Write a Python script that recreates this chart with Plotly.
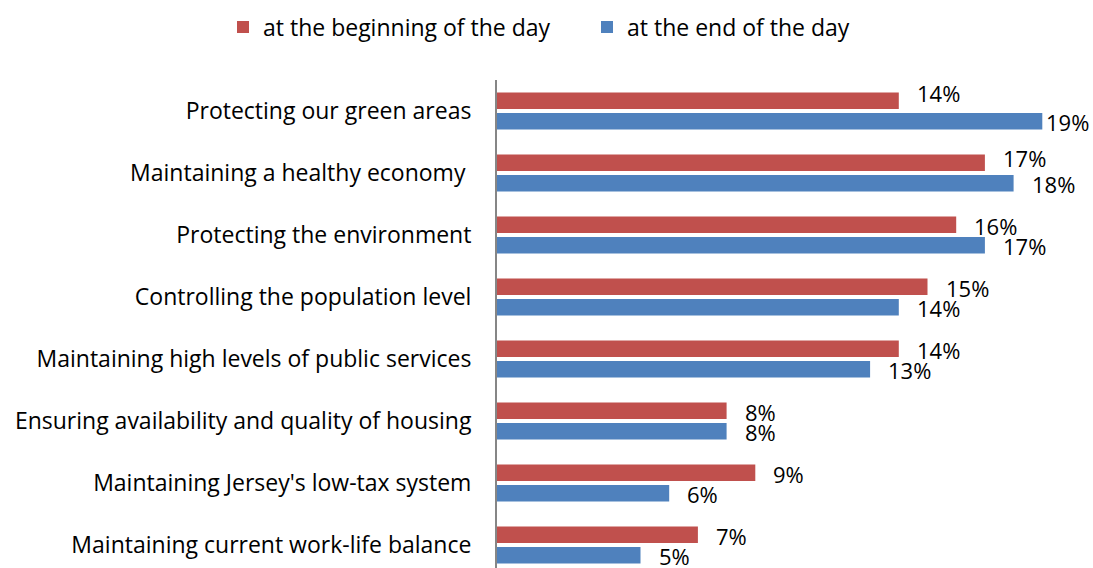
import plotly.graph_objects as go

# Priorities, listed top to bottom as they appear on the chart
categories = [
    "Protecting our green areas",
    "Maintaining a healthy economy\u00a0",
    "Protecting the environment",
    "Controlling the population level",
    "Maintaining high levels of public services",
    "Ensuring availability and quality of housing",
    "Maintaining Jersey's low-tax system",
    "Maintaining current work-life balance",
]
series_names = ["at the beginning of the day", "at the end of the day"]
beginning_pct = [14, 17, 16, 15, 14, 8, 9, 7]
end_pct = [19, 18, 17, 14, 13, 8, 6, 5]

RED = "#C0504D"
BLUE = "#4F81BD"
FONT = "Open Sans"
FONT_SIZE = 23
LABEL_SIZE = 22

W, H = 1093, 568
M_LEFT, M_RIGHT, M_TOP, M_BOTTOM = 497, 22, 80, 0
ROW_PX = 62  # vertical room per category
plot_w = W - M_LEFT - M_RIGHT
plot_h = H - M_TOP - M_BOTTOM

fig = go.Figure()
for name, vals, color in [
    (series_names[0], beginning_pct, RED),
    (series_names[1], end_pct, BLUE),
]:
    fig.add_trace(go.Bar(
        name=name,
        y=categories,
        x=vals,
        orientation="h",
        marker=dict(color=color, line=dict(width=0)),
        hoverinfo="skip",
    ))

# Value labels just past the end of each bar
bar_offset = 10.25
label_nudge = {(0, 0): (0, 9), (1, 0): (0, 6), (0, 1): (-14, 0)}
annotations = []
for s, (vals, dy) in enumerate([(beginning_pct, bar_offset), (end_pct, -bar_offset)]):
    for i, v in enumerate(vals):
        nx, ny = label_nudge.get((i, s), (0, 0))
        annotations.append(dict(
            x=v, y=categories[i], xref="x", yref="y",
            text=f"{v}%", showarrow=False,
            xanchor="left", yanchor="middle",
            xshift=16 + nx, yshift=dy - 1 + ny,
            font=dict(family=FONT, size=LABEL_SIZE, color="#000000"),
        ))

fig.update_layout(
    width=W, height=H,
    margin=dict(l=M_LEFT, r=M_RIGHT, t=M_TOP, b=M_BOTTOM, pad=0, autoexpand=False),
    paper_bgcolor="white", plot_bgcolor="white",
    barmode="group", bargap=1 - 41 / ROW_PX, bargroupgap=4 / 20.5,
    font=dict(family=FONT, size=FONT_SIZE, color="#000000"),
    showlegend=True,
    legend=dict(
        orientation="h",
        x=(223 - M_LEFT) / plot_w, xanchor="left",
        y=1 + (M_TOP - 27) / plot_h, yanchor="middle",
        font=dict(family=FONT, size=FONT_SIZE, color="#000000"),
        entrywidth=319, entrywidthmode="pixels",
        itemclick=False, itemdoubleclick=False,
    ),
    xaxis=dict(
        range=[0, plot_w / 28.7], visible=False, fixedrange=True,
    ),
    yaxis=dict(
        type="category",
        categoryorder="array", categoryarray=categories,
        range=[-0.5 + plot_h / ROW_PX, -0.5],
        showline=True, linecolor="#868686", linewidth=2,
        showgrid=False, zeroline=False, ticks="",
        ticklabelstandoff=19,
        tickfont=dict(family=FONT, size=FONT_SIZE, color="#000000"),
        fixedrange=True,
    ),
    annotations=annotations,
)

fig.write_html("out.html", config=dict(displayModeBar=False))
